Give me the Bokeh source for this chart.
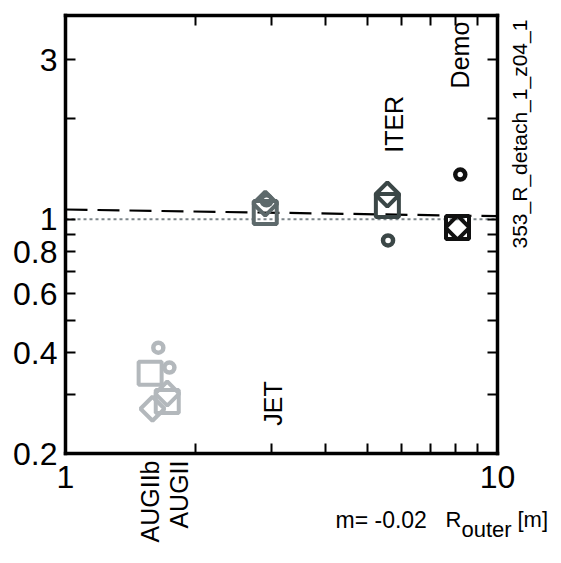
import numpy as np
from bokeh.plotting import figure
from bokeh.models import LogAxis, FixedTicker, Label, Range1d, CustomJSTickFormatter
from bokeh.embed import file_html
from bokeh.resources import INLINE

# ---------------- data ----------------
machines = ["AUGIIb", "AUGII", "JET", "ITER", "Demo"]
machine_colors = ["#b3b8bc", "#b3b8bc", "#5d696b", "#3b4747", "#111111"]

circle_R = [1.64, 1.74, 2.92, 5.58, 8.20]
circle_v = [0.414, 0.361, 1.14, 0.865, 1.36]
square_R = [1.57, 1.72, 2.90, 5.56, 8.08]
square_v = [0.347, 0.286, 1.048, 1.099, 0.945]
diamond_R = [1.59, 1.72, 2.90, 5.56, 8.08]
diamond_v = [0.272, 0.302, 1.114, 1.186, 0.945]

fit_R = [1.0, 10.0]
fit_v = [1.07, 1.022]
ref_R = [1.0, 10.0]
ref_v = [1.0, 1.0]

label_R = [1.573, 1.827, 3.03, 5.75, 8.17]
label_v_inside = {"JET": 0.242, "ITER": 1.58, "Demo": 2.46}

x_lim = (1.0, 10.0)
y_lim = (0.2, 4.06)
x_ticks = [1, 10]
x_minor = [2, 3, 4, 5, 6, 7, 8, 9]
y_ticks = [0.2, 0.4, 0.6, 0.8, 1, 3]
y_minor = [0.3, 0.5, 0.7, 0.9, 2]

FONT = "Liberation Sans"

# ---------------- layout ----------------
W, H = 553, 555
box_left, box_w = 65, 432      # pixel box of the data area
box_top, box_h = 15, 438
lx0, lx1 = np.log10(x_lim[0]), np.log10(x_lim[1])
ly0, ly1 = np.log10(y_lim[0]), np.log10(y_lim[1])
sx = (lx1 - lx0) / box_w
sy = (ly1 - ly0) / box_h
xr = Range1d(10 ** (lx0 - box_left * sx), 10 ** (lx1 + (W - box_left - box_w) * sx))
yr = Range1d(10 ** (ly0 - (H - box_top - box_h) * sy), 10 ** (ly1 + box_top * sy))

p = figure(width=W, height=H, x_axis_type="log", y_axis_type="log",
           x_range=xr, y_range=yr, output_backend="svg", toolbar_location=None,
           min_border=0)
p.title.visible = False
p.xgrid.visible = False
p.ygrid.visible = False
p.outline_line_color = None
p.background_fill_color = "white"
p.border_fill_color = "white"

fmt = CustomJSTickFormatter(code="return (Math.round(tick*10)/10).toString();")

def style_axis(ax, ticks, minor, bounds, loc, show_labels=True, standoff=8):
    ax.ticker = FixedTicker(ticks=ticks, minor_ticks=minor)
    ax.formatter = fmt
    ax.bounds = bounds
    ax.fixed_location = loc
    ax.axis_line_width = 3.5
    ax.axis_line_color = "black"
    ax.axis_line_cap = "square"
    ax.major_tick_in = 10
    ax.major_tick_out = 0
    ax.minor_tick_in = 10
    ax.minor_tick_out = 0
    ax.major_tick_line_width = 2
    ax.minor_tick_line_width = 2
    ax.major_tick_line_color = "black"
    ax.minor_tick_line_color = "black"
    ax.major_label_text_font = FONT
    ax.major_label_text_color = "black"
    if show_labels:
        ax.major_label_text_font_size = "32px"
        ax.major_label_standoff = standoff
    else:
        ax.major_label_text_font_size = "0px"
        ax.major_label_text_alpha = 0
        ax.major_label_standoff = 0

style_axis(p.xaxis[0], x_ticks, x_minor, x_lim, y_lim[0], standoff=12)
style_axis(p.yaxis[0], y_ticks, y_minor, y_lim, x_lim[0], standoff=8)
p.yaxis[0].major_label_orientation = "horizontal"

ra = LogAxis()
style_axis(ra, y_ticks, y_minor, y_lim, x_lim[1], show_labels=False)
p.add_layout(ra, "right")
ta = LogAxis()
style_axis(ta, x_ticks, x_minor, x_lim, y_lim[1], show_labels=False)
p.add_layout(ta, "above")

# reference lines
p.line(ref_R, ref_v, line_color="#7d868b", line_width=2, line_dash="3 3")
p.line(fit_R, fit_v, line_color="black", line_width=2.2, line_dash="22 10")

# markers
p.scatter(square_R, square_v, marker="square", size=23, fill_color=None,
          line_color=machine_colors, line_width=4)
p.scatter(diamond_R, diamond_v, marker="square", angle=np.pi / 4, size=17, fill_color=None,
          line_color=machine_colors, line_width=4)
p.scatter(circle_R, circle_v, marker="circle", size=10, fill_color=None,
          line_color=machine_colors, line_width=4.5)

# machine labels
for name, R in zip(machines, label_R):
    if name in label_v_inside:
        p.add_layout(Label(x=R, y=label_v_inside[name], x_units="data", y_units="data",
                           text=name, angle=np.pi / 2, text_align="left", text_baseline="middle",
                           text_font=FONT, text_font_size="25px", text_color="black"))
    else:
        p.add_layout(Label(x=R, y=H - 460, x_units="data", y_units="screen",
                           text=name, angle=np.pi / 2, text_align="right", text_baseline="middle",
                           text_font=FONT, text_font_size="25px", text_color="black"))

# x-axis caption with subscript
cap = dict(x_units="screen", y_units="screen", text_font=FONT, text_font_size="22px",
           text_baseline="alphabetic", text_color="black")
p.add_layout(Label(x=335, y=H - 519, text="m= -0.02",
                   **{**cap, "text_font_size": "23px"}))
p.add_layout(Label(x=445, y=H - 519, text="R", **cap))
p.add_layout(Label(x=461, y=H - 529, text="outer", **cap))
p.add_layout(Label(x=517, y=H - 519, text="[m]", **cap))

# figure id on the right
p.add_layout(Label(x=519, y=H - 248, x_units="screen", y_units="screen", text="353_R_detach_1_z04_1",
                   angle=np.pi / 2, text_align="left", text_baseline="middle",
                   text_font=FONT, text_font_size="21px", text_color="black"))

open("out.html", "w").write(file_html(p, INLINE))
